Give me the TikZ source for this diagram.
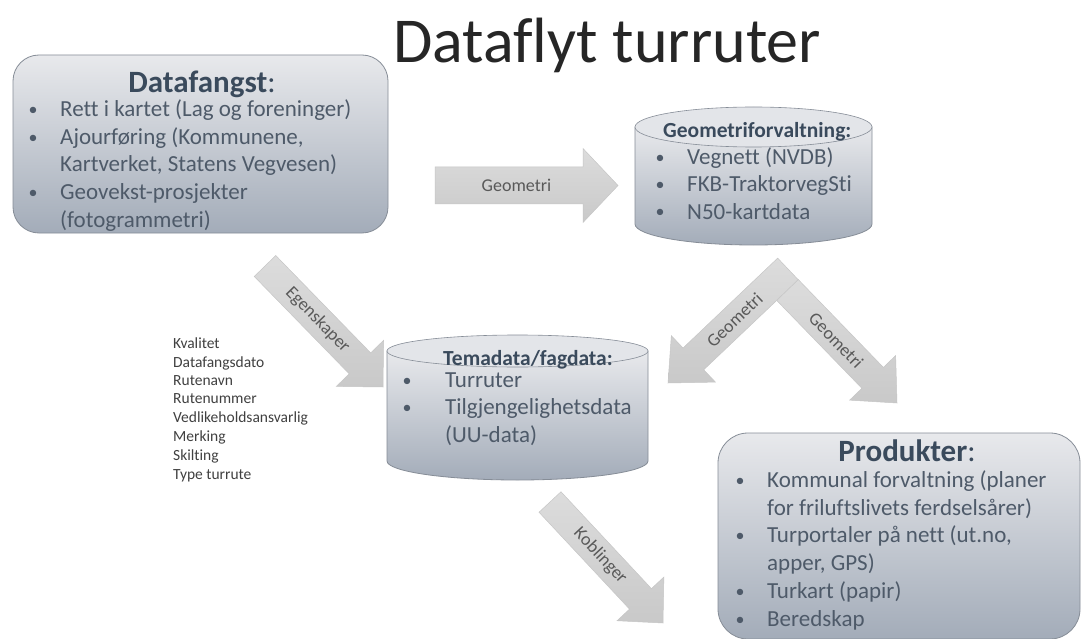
\documentclass[tikz,border=0pt]{standalone}
\usepackage{fontspec}
\setmainfont{Carlito}[Ligatures={NoCommon}]
\usetikzlibrary{calc}
\definecolor{boxtop}{HTML}{E8E9EC}
\definecolor{boxbot}{HTML}{A3ACB9}
\definecolor{boxline}{HTML}{868D97}
\definecolor{headtxt}{HTML}{3A4A5C}
\definecolor{bodytxt}{HTML}{4E5A69}
\definecolor{arrtop}{HTML}{DCDCDC}
\definecolor{arrbot}{HTML}{C9C9C9}
\definecolor{arrline}{HTML}{C6C6C6}
\definecolor{arrtxt}{HTML}{595959}
\definecolor{listtxt}{HTML}{404040}
\definecolor{cyltop}{HTML}{E3E5E9}
\tikzset{
  roundbox/.style={draw=boxline, line width=0.8pt, top color=boxtop, bottom color=boxbot, inner sep=0pt},
  cylbody/.style={draw=boxline, line width=0.8pt, top color=boxtop, bottom color=boxbot},
  cyllid/.style={draw=boxline, line width=0.6pt, fill=cyltop},
  fatarrow/.style={draw=arrline, line width=0.5pt, top color=arrtop, bottom color=arrbot},
  arrlabel/.style={sloped, inner sep=0pt, text=arrtxt, font=\fontsize{18}{20}\selectfont},
  bigtitle/.style={anchor=base, inner sep=0pt, text=headtxt, font=\fontsize{31}{36}\selectfont},
  cyltitle/.style={anchor=base west, inner sep=0pt, text=headtxt, font=\bfseries\fontsize{21.5}{26}\selectfont},
  btxt/.style={anchor=base west, inner sep=0pt, text=bodytxt, font=\fontsize{23}{28}\selectfont},
  bdot/.style={anchor=base, inner sep=0pt, text=bodytxt, font=\fontsize{18}{28}\selectfont},
  listline/.style={anchor=base west, inner sep=0pt, text=listtxt, font=\fontsize{15.5}{18}\selectfont},
}
% #1 tail, #2 tip, #3 body half width, #4 head half width, #5 head length, #6 label, #7 label name
\newcommand\blockarrow[7]{%
  \coordinate (#2-h) at ($(#2)!#5pt!(#1)$);
  \path[fatarrow] ($(#1)!#3pt!90:(#2)$) -- ($(#2-h)!#3pt!90:(#2)$) -- ($(#2-h)!#4pt!90:(#2)$)
    -- (#2) -- ($(#2-h)!#4pt!-90:(#2)$) -- ($(#2-h)!#3pt!-90:(#2)$) -- ($(#1)!#3pt!-90:(#2)$) -- cycle;
  \path (#1) -- (#2) node[arrlabel, pos=0.445] (#7) {#6};
}
\begin{document}
\begin{tikzpicture}[x=1pt, y=-1pt]
\fill[white] (0,0) rectangle (1084,639);
\useasboundingbox (0,0) rectangle (1084,639);

% title
\node[anchor=base, inner sep=0pt, font=\fontsize{64}{70}\selectfont, text=black!85] (title) at (607,63) {Dataflyt turruter};

% ---------- Datafangst box
\node[roundbox, rounded corners=26pt, minimum width=375pt, minimum height=178pt] (fangst) at (200.5,144) {};
\node[bigtitle] (fangst-t) at (202,93) {\textbf{Datafangst}:};
\node[bdot] (fb1) at (33,116) {•}; \node[btxt] (ft1) at (60,117) {Rett i kartet (Lag og foreninger)};
\node[bdot] (fb2) at (33,144) {•}; \node[btxt] (ft2) at (60,145) {Ajourføring (Kommunene,};
\node[btxt] (ft3) at (60,172) {Kartverket, Statens Vegvesen)};
\node[bdot] (fb4) at (33,199) {•}; \node[btxt] (ft4) at (60,200) {Geovekst-prosjekter};
\node[btxt] (ft5) at (60,227) {(fotogrammetri)};

% ---------- Geometriforvaltning cylinder
\path[cylbody] (635,127) -- (635,224) arc[start angle=180, end angle=360, x radius=118.5pt, y radius=21pt] -- (872,127) -- cycle;
\path[cyllid] (753.5,127) ellipse [x radius=118.5pt, y radius=20pt];
\coordinate (geomcyl) at (753.5,175);
\node[cyltitle] (geo-t) at (663,138) {Geometriforvaltning:};
\node[bdot] (gb1) at (660,164) {•}; \node[btxt] (gt1) at (687,165) {Vegnett (NVDB)};
\node[bdot] (gb2) at (660,191) {•}; \node[btxt] (gt2) at (687,192) {FKB-TraktorvegSti};
\node[bdot] (gb3) at (660,218) {•}; \node[btxt] (gt3) at (687,219) {N50-kartdata};

% ---------- Temadata cylinder
\path[cylbody] (387,351) -- (387,461) arc[start angle=180, end angle=360, x radius=130.5pt, y radius=19pt] -- (648,351) -- cycle;
\path[cyllid] (517.5,351) ellipse [x radius=130.5pt, y radius=16pt];
\coordinate (temacyl) at (517.5,410);
\node[cyltitle] (tema-t) at (443,365) {Temadata/fagdata:};
\node[bdot] (tb1) at (407,386) {•}; \node[btxt] (tt1) at (445,387) {Turruter};
\node[bdot] (tb2) at (407,413) {•}; \node[btxt] (tt2) at (445,414) {Tilgjengelighetsdata};
\node[btxt] (tt3) at (445,442) {(UU-data)};

% ---------- Produkter box
\node[roundbox, rounded corners=30pt, minimum width=362pt, minimum height=206pt] (prod) at (899,536) {};
\node[bigtitle] (prod-t) at (907,461) {\textbf{Produkter}:};
\node[bdot] (pb1) at (740,486) {•}; \node[btxt] (pt1) at (767,487) {Kommunal forvaltning (planer};
\node[btxt] (pt2) at (767,515) {for friluftslivets ferdselsårer)};
\node[bdot] (pb3) at (740,541) {•}; \node[btxt] (pt3) at (767,542) {Turportaler på nett (ut.no,};
\node[btxt] (pt4) at (767,570) {apper, GPS)};
\node[bdot] (pb5) at (740,597) {•}; \node[btxt] (pt5) at (767,598) {Turkart (papir)};
\node[bdot] (pb6) at (740,625) {•}; \node[btxt] (pt6) at (767,626) {Beredskap};

% ---------- attribute list
\node[listline] (l1) at (173,348) {Kvalitet};
\node[listline] (l2) at (173,367) {Datafangsdato};
\node[listline] (l3) at (173,385) {Rutenavn};
\node[listline] (l4) at (173,403) {Rutenummer};
\node[listline] (l5) at (173,422) {Vedlikeholdsansvarlig};
\node[listline] (l6) at (173,441) {Merking};
\node[listline] (l7) at (173,460) {Skilting};
\node[listline] (l8) at (173,479) {Type turrute};

% ---------- block arrows
\coordinate (g1t) at (435,185.5); \coordinate (g1p) at (618,185.5);
\blockarrow{g1t}{g1p}{18.5}{37}{35}{Geometri}{lab-g1}
\coordinate (egt) at (265,266); \coordinate (egp) at (383,387);
\blockarrow{egt}{egp}{15}{33}{33}{Egenskaper}{lab-eg}
\coordinate (glt) at (788,269); \coordinate (glp) at (668,383);
\blockarrow{glt}{glp}{15}{32}{35}{Geometri}{lab-gl}
\coordinate (grt) at (787.5,290); \coordinate (grp) at (897,403);
\blockarrow{grt}{grp}{15}{32}{35}{Geometri}{lab-gr}
\coordinate (kbt) at (550,502); \coordinate (kbp) at (663,623);
\blockarrow{kbt}{kbp}{15}{32}{33}{Koblinger}{lab-kb}
\end{tikzpicture}
\end{document}
